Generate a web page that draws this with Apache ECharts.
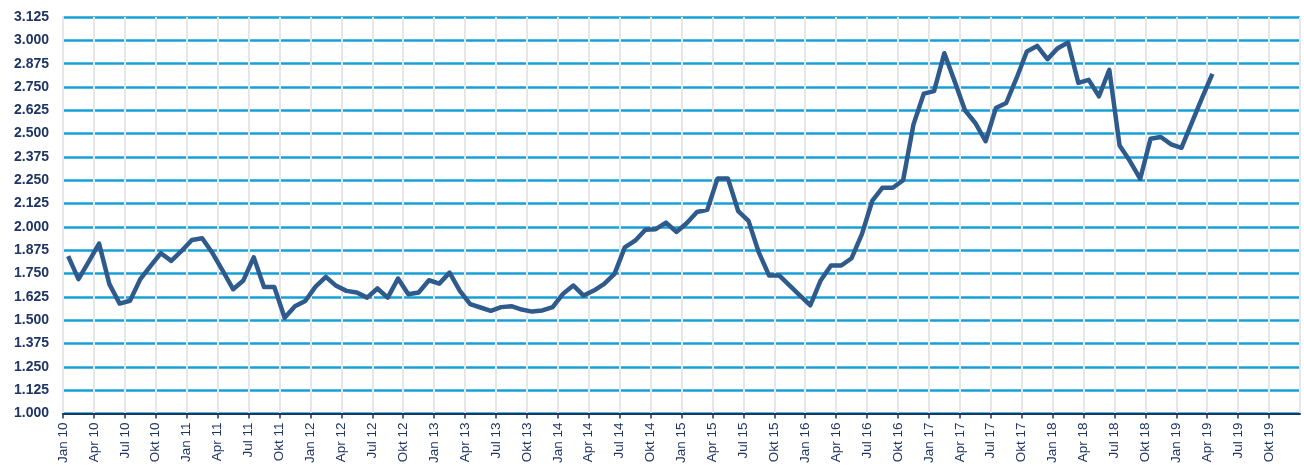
<!DOCTYPE html>
<html>
<head>
<meta charset="utf-8">
<script src="https://cdn.jsdelivr.net/npm/echarts@6/dist/echarts.min.js"></script>
<style>
html,body{margin:0;padding:0;background:#fff;}
#chart{width:1304px;height:466px;}
</style>
</head>
<body>
<div id="chart"></div>
<script>
// Monthly categories Jan 10 ... Dez 19
const monthNames = ['Jan','Feb','Mär','Apr','Mai','Jun','Jul','Aug','Sep','Okt','Nov','Dez'];
const years = ['10','11','12','13','14','15','16','17','18','19'];
const categories = [];
years.forEach(y => monthNames.forEach(m => categories.push(m + ' ' + y)));

// Quarterly tick labels shown on the axis
const tickLabels = [];
years.forEach(y => ['Jan','Apr','Jul','Okt'].forEach(m => tickLabels.push(m + ' ' + y)));

// Series values (Jan 10 ... Apr 19)
const values = [
  1843,1720,1814,1911,1693,1589,1604,1720,1791,1859,1818,1871,
  1930,1939,1860,1764,1666,1713,1837,1678,1678,1513,1575,1603,
  1680,1732,1684,1657,1648,1621,1670,1621,1723,1639,1648,1714,
  1696,1755,1657,1586,1568,1550,1570,1575,1557,1546,1552,1570,
  1641,1686,1632,1659,1695,1748,1890,1926,1985,1988,2023,1973,
  2020,2080,2091,2260,2260,2085,2032,1863,1739,1739,1685,1632,
  1580,1713,1793,1793,1832,1961,2139,2210,2210,2250,2548,2714,
  2728,2931,2780,2625,2557,2459,2637,2664,2797,2940,2970,2899,
  2958,2988,2772,2788,2700,2842,2436,2353,2258,2472,2482,2442,
  2424,2557,2691,2820
];

const navy = '#1f3564';
const chart = echarts.init(document.getElementById('chart'), null, {renderer:'canvas'});
chart.setOption({
  animation: false,
  grid: {left: 63, right: 4, top: 17, bottom: 51, containLabel: false},
  xAxis: [
    {
      type: 'category',
      data: categories,
      boundaryGap: true,
      show: false
    },
    {
      type: 'value',
      position: 'bottom',
      min: 0,
      max: categories.length,
      interval: 3,
      axisLine: {show: true, onZero: false, lineStyle: {color: navy, width: 2}},
      axisTick: {show: true, length: 5, lineStyle: {color: navy, width: 1.5}},
      axisLabel: {
        rotate: 90,
        margin: 9,
        fontFamily: 'Liberation Sans, Arial, sans-serif',
        fontSize: 13.5,
        color: navy,
        showMaxLabel: false,
        formatter: v => tickLabels[Math.round(v / 3)] || ''
      },
      splitLine: {show: true, lineStyle: {color: '#e6e6e6', width: 2}},
      z: 3
    }
  ],
  yAxis: {
    type: 'value',
    min: 1000,
    max: 3125,
    interval: 125,
    axisLine: {show: true, lineStyle: {color: '#e3e3e3', width: 2}},
    axisTick: {show: false},
    axisLabel: {
      margin: 14,
      fontFamily: 'Liberation Sans, Arial, sans-serif',
      fontSize: 14,
      fontWeight: 'bold',
      color: navy,
      formatter: v => Math.floor(v / 1000) + '.' + String(v % 1000).padStart(3, '0')
    },
    splitLine: {show: true, lineStyle: {color: '#17a0d8', width: 2.5}}
  },
  series: [{
    type: 'line',
    xAxisIndex: 0,
    data: values,
    showSymbol: false,
    symbol: 'none',
    lineStyle: {color: '#2e5a8c', width: 4.5, join: 'round'},
    z: 5
  }]
});
</script>
</body>
</html>
